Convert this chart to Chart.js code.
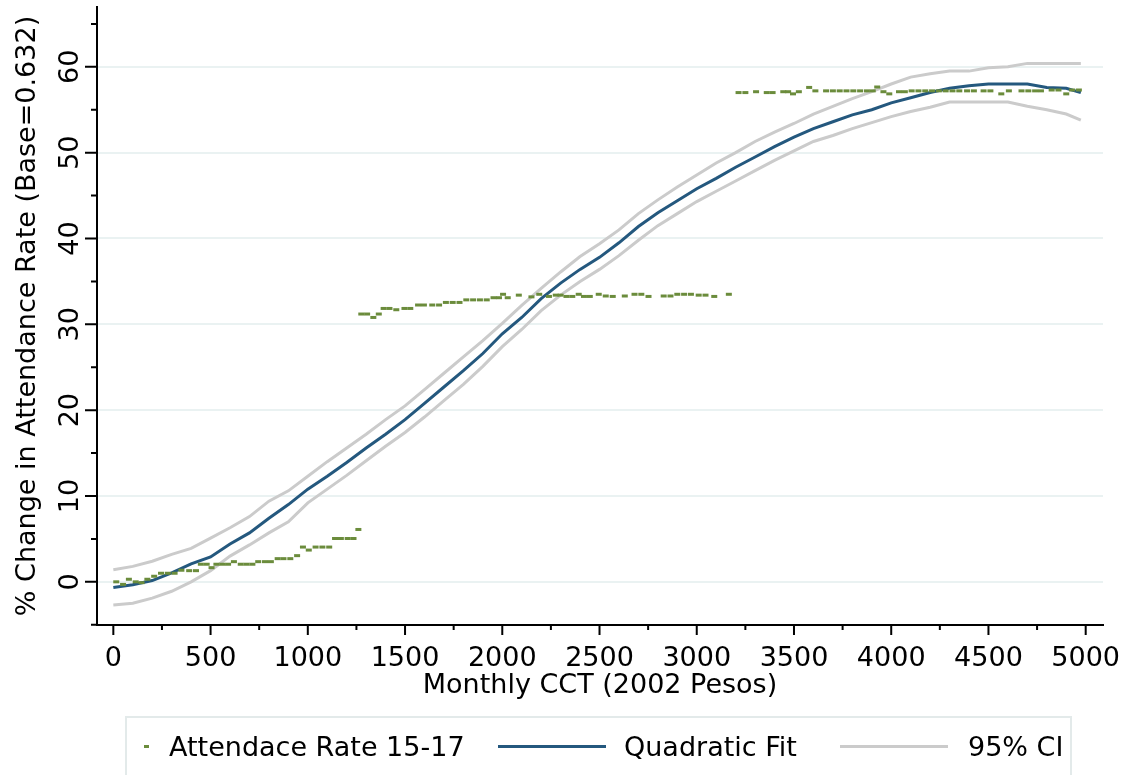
<!DOCTYPE html>
<html>
<head>
<meta charset="utf-8">
<script src="https://cdn.jsdelivr.net/npm/chart.js@4.4.1/dist/chart.umd.min.js"></script>
<style>
  html, body { margin: 0; padding: 0; background: #fff; }
  #wrap { position: relative; width: 1133px; height: 775px; overflow: hidden; }
  #legend {
    position: absolute; left: 125px; top: 716px; width: 947px; height: 62px;
    border: 2px solid #e3eaea; box-sizing: border-box;
    font-family: "DejaVu Sans", sans-serif;
    font-size: 27px; color: #000;
  }
  #legend .item { position: absolute; top: 14px; line-height: 30px; white-space: nowrap; }
  #legend .sw { position: absolute; height: 3px; top: 27px; }
</style>
</head>
<body>
<div id="wrap">
  <canvas id="chart" width="1133" height="775"></canvas>
  <div id="legend">
    <div class="sw" style="left:17px;width:5px;background:#6b8c3c;"></div>
    <div class="item" style="left:42px;">Attendace Rate 15-17</div>
    <div class="sw" style="left:371px;width:108px;background:#24587e;"></div>
    <div class="item" style="left:497px;">Quadratic Fit</div>
    <div class="sw" style="left:713px;width:108px;background:#cbcbcb;"></div>
    <div class="item" style="left:841px;">95% CI</div>
  </div>
</div>
<script>
// attendance rate 15-17 (x in 2002 pesos, y in %)
const attendX = [
  15, 50, 80, 115, 145, 175, 210, 245, 280, 315, 350, 390, 425, 450, 480, 505, 530, 560, 590, 620,
  655, 685, 715, 745, 780, 810, 845, 875, 910, 945, 975, 1005, 1040, 1075, 1110, 1140, 1170, 1205, 1235, 1260,
  1275, 1305, 1337, 1365, 1390, 1420, 1455, 1497, 1527, 1567, 1597, 1640, 1675, 1710, 1745, 1780,
  1815, 1850, 1885, 1920, 1955, 1983, 2004, 2028, 2085, 2150, 2190, 2240, 2275, 2300, 2330, 2360,
  2393, 2420, 2450, 2496, 2532, 2568, 2630, 2680, 2715, 2752, 2830, 2865, 2900, 2935, 2970, 3010,
  3045, 3090, 3165,
  3215, 3250, 3305, 3360, 3390, 3445, 3470, 3495, 3525, 3578, 3610, 3665, 3700, 3735, 3770, 3805,
  3840, 3875, 3905, 3928, 3960, 3990, 4040, 4070, 4105, 4140, 4175, 4210, 4245, 4280, 4315, 4350,
  4390, 4425, 4475, 4510, 4566, 4605, 4670, 4705, 4740, 4770, 4825, 4860, 4900, 4930, 4965
];
const attendY = [
  0.0, -0.3, 0.3, 0.0, -0.1, 0.3, 0.65, 1.0, 1.0, 1.0, 1.35, 1.3, 1.3, 2.05, 2.05, 1.65, 2.05, 2.05, 2.05, 2.35,
  2.05, 2.05, 2.05, 2.35, 2.35, 2.35, 2.7, 2.7, 2.7, 3.05, 4.05, 3.7, 4.05, 4.05, 4.05, 5.05, 5.05, 5.05, 5.05, 6.1,
  31.2, 31.2, 30.8, 31.2, 31.85, 31.85, 31.7, 31.85, 31.85, 32.25, 32.25, 32.25, 32.25, 32.55, 32.55, 32.55,
  32.85, 32.85, 32.85, 32.85, 33.1, 33.1, 33.5, 33.1, 33.4, 33.2, 33.5, 33.25, 33.4, 33.4, 33.25, 33.25,
  33.5, 33.25, 33.25, 33.5, 33.3, 33.25, 33.3, 33.5, 33.5, 33.25, 33.3, 33.3, 33.5, 33.5, 33.5, 33.4,
  33.4, 33.25, 33.5,
  57.0, 57.0, 57.1, 57.0, 57.0, 57.1, 57.1, 56.85, 57.1, 57.6, 57.2, 57.2, 57.2, 57.2, 57.2, 57.2,
  57.2, 57.2, 57.2, 57.65, 57.1, 56.85, 57.1, 57.1, 57.2, 57.2, 57.2, 57.2, 57.2, 57.2, 57.2, 57.2,
  57.2, 57.2, 57.2, 57.2, 56.85, 57.2, 57.2, 57.2, 57.2, 57.2, 57.3, 57.3, 56.85, 57.3, 57.3
];

// quadratic fit and its 95% band, sampled every 100 pesos
const fitX = [
  0, 100, 200, 300, 400, 500, 600, 700, 800, 900, 1000, 1100, 1200, 1300, 1400, 1500, 1600, 1700, 1800, 1900,
  2000, 2100, 2200, 2300, 2400, 2500, 2600, 2700, 2800, 2900, 3000, 3100, 3200, 3300, 3400, 3500, 3600, 3700, 3800, 3900,
  4000, 4100, 4200, 4300, 4400, 4500, 4600, 4700, 4800, 4900, 4975
];
const fitY = [
  -0.65, -0.35, 0.15, 1.05, 2.1, 2.9, 4.4, 5.7, 7.4, 9.0, 10.8, 12.3, 13.9, 15.6, 17.2, 18.9, 20.8, 22.7, 24.6, 26.6,
  28.9, 30.8, 33.0, 34.8, 36.4, 37.8, 39.5, 41.4, 43.0, 44.4, 45.8, 47.0, 48.3, 49.5, 50.7, 51.8, 52.8, 53.6, 54.4, 55.0,
  55.8, 56.4, 57.0, 57.5, 57.8, 58.0, 58.0, 58.0, 57.6, 57.5, 57.0
];
const ciHigh = [
  1.4, 1.8, 2.4, 3.2, 3.9, 5.1, 6.3, 7.6, 9.4, 10.6, 12.3, 14.0, 15.6, 17.2, 18.9, 20.5, 22.4, 24.3, 26.2, 28.1,
  30.1, 32.2, 34.2, 36.1, 37.9, 39.4, 41.0, 42.9, 44.5, 46.0, 47.4, 48.8, 50.0, 51.3, 52.4, 53.4, 54.5, 55.4, 56.3, 57.1,
  58.0, 58.8, 59.2, 59.5, 59.5, 59.9, 60.0, 60.4, 60.4, 60.4, 60.4
];
const ciLow = [
  -2.7, -2.5, -1.9, -1.1, 0.0, 1.3, 3.0, 4.3, 5.7, 7.0, 9.2, 10.8, 12.4, 14.1, 15.8, 17.4, 19.2, 21.1, 23.0, 25.1,
  27.4, 29.4, 31.6, 33.4, 35.0, 36.4, 38.0, 39.8, 41.5, 42.9, 44.3, 45.5, 46.7, 47.9, 49.1, 50.2, 51.3, 52.0, 52.8, 53.5,
  54.2, 54.8, 55.3, 55.9, 55.9, 55.9, 55.9, 55.4, 55.0, 54.5, 53.8
];

// axis ticks
const xLabels = [0, 500, 1000, 1500, 2000, 2500, 3000, 3500, 4000, 4500, 5000];
const xMinor = [250, 750, 1250, 1750, 2250, 2750, 3250, 3750, 4250, 4750];
const yLabels = [0, 10, 20, 30, 40, 50, 60];
const yMinor = [-5, 5, 15, 25, 35, 45, 55, 65];

const pts = (xs, ys) => xs.map((x, i) => ({ x, y: ys[i] }));
const FONT = 'DejaVu Sans';

// tick marks (long at labels, short in between) and the rotated y labels
const axisDecor = {
  id: 'axisDecor',
  afterDraw(chart) {
    const { ctx, chartArea, scales: { x, y } } = chart;
    ctx.save();
    ctx.strokeStyle = '#000';
    ctx.lineWidth = 2;
    ctx.beginPath();
    yLabels.forEach(v => { const p = y.getPixelForValue(v); ctx.moveTo(chartArea.left - 12, p); ctx.lineTo(chartArea.left, p); });
    yMinor.forEach(v => { const p = y.getPixelForValue(v); ctx.moveTo(chartArea.left - 6, p); ctx.lineTo(chartArea.left, p); });
    xLabels.forEach(v => { const p = x.getPixelForValue(v); ctx.moveTo(p, chartArea.bottom); ctx.lineTo(p, chartArea.bottom + 10); });
    xMinor.forEach(v => { const p = x.getPixelForValue(v); ctx.moveTo(p, chartArea.bottom); ctx.lineTo(p, chartArea.bottom + 5); });
    ctx.stroke();

    ctx.fillStyle = '#000';
    ctx.font = '27px "' + FONT + '"';
    ctx.textAlign = 'center';
    ctx.textBaseline = 'middle';
    yLabels.forEach(v => {
      ctx.save();
      ctx.translate(71, y.getPixelForValue(v));
      ctx.rotate(-Math.PI / 2);
      ctx.fillText(String(v), 0, 0);
      ctx.restore();
    });
    ctx.restore();
  }
};

new Chart(document.getElementById('chart'), {
  type: 'line',
  data: {
    datasets: [
      {
        label: 'Attendace Rate 15-17',
        data: pts(attendX, attendY),
        showLine: false,
        pointStyle: 'line',
        pointRadius: 3,
        pointBorderWidth: 3,
        borderColor: '#6b8c3c',
        backgroundColor: '#6b8c3c',
        order: 0
      },
      {
        label: 'Quadratic Fit',
        data: pts(fitX, fitY),
        borderColor: '#24587e',
        borderWidth: 3,
        pointRadius: 0,
        order: 1
      },
      {
        label: '95% CI',
        data: pts(fitX, ciHigh),
        borderColor: '#cbcbcb',
        borderWidth: 3,
        pointRadius: 0,
        order: 2
      },
      {
        label: '95% CI low',
        data: pts(fitX, ciLow),
        borderColor: '#cbcbcb',
        borderWidth: 3,
        pointRadius: 0,
        order: 2
      }
    ]
  },
  options: {
    responsive: false,
    animation: false,
    devicePixelRatio: 1,
    layout: { padding: { left: 0, right: 30, top: 5, bottom: 72 } },
    plugins: { legend: { display: false }, tooltip: { enabled: false } },
    scales: {
      x: {
        type: 'linear',
        min: -84,
        max: 5089,
        afterFit: s => { s.height = 78; s.paddingRight = 0; s.paddingLeft = 0; },
        afterBuildTicks: s => { s.ticks = xLabels.map(v => ({ value: v })); },
        grid: { color: 'rgba(0,0,0,0)', drawTicks: false },
        border: { display: true, color: '#000', width: 2 },
        ticks: {
          color: '#000', padding: 18, autoSkip: false, maxRotation: 0,
          callback: v => String(v),
          font: { family: FONT, size: 27 }
        },
        title: { display: true, text: 'Monthly CCT (2002 Pesos)', color: '#000', padding: { top: 0, bottom: 1 }, font: { family: FONT, size: 27 } }
      },
      y: {
        type: 'linear',
        min: -5.03,
        max: 66.97,
        afterFit: s => { s.width = 97; },
        afterBuildTicks: s => { s.ticks = yLabels.map(v => ({ value: v })); },
        grid: { color: '#eaf2f2', lineWidth: 2, drawTicks: false },
        border: { display: true, color: '#000', width: 2 },
        ticks: { display: false },
        title: { display: true, text: '% Change in Attendance Rate (Base=0.632)', color: '#000', padding: { top: 12, bottom: 0 }, font: { family: FONT, size: 27 } }
      }
    }
  },
  plugins: [axisDecor]
});
</script>
</body>
</html>
